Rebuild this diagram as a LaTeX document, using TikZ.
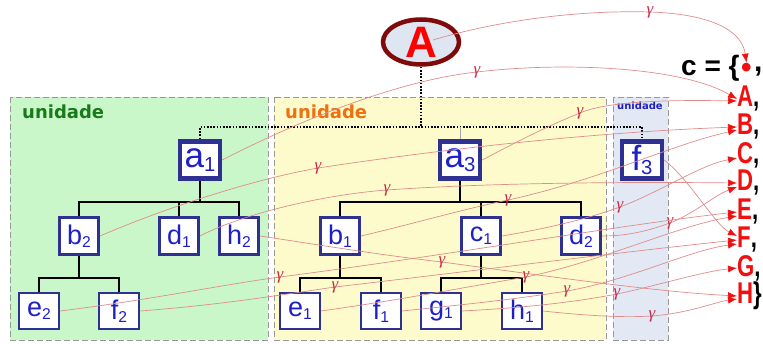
\documentclass[tikz,border=0pt]{standalone}
\usepackage{fontspec}
\usepackage{graphicx}
\setmainfont{Liberation Sans}
\newfontfamily\dv{DejaVu Sans}
\newfontfamily\gf{Liberation Serif}
\usetikzlibrary{arrows.meta,shapes.geometric,calc}
\newcommand\subn[1]{\raisebox{-0.12em}{\scalebox{0.58}{#1}}}
\newcommand\nrw[1]{\scalebox{0.74}[1]{#1}}
\definecolor{nav}{HTML}{2E3192}
\definecolor{txtb}{HTML}{1F1FC8}
\definecolor{grnf}{HTML}{C9F7C9}
\definecolor{yelf}{HTML}{FDFBCB}
\definecolor{bluf}{HTML}{E2E9F5}
\definecolor{darkr}{HTML}{7F0A0A}
\definecolor{elf}{HTML}{DDE6F1}
\definecolor{lin}{HTML}{E08C8C}
\definecolor{gcol}{HTML}{C8284A}
\definecolor{setred}{HTML}{F01010}
\definecolor{ugreen}{HTML}{1A7A1A}
\definecolor{uorange}{HTML}{F07010}
\definecolor{ublue}{HTML}{2020C0}
\tikzset{
  topbox/.style={draw=nav, line width=4.5pt, fill=white, minimum width=40pt, minimum height=37pt, inner sep=0pt, text=txtb, font=\fontsize{35}{35}\selectfont},
  midbox/.style={draw=nav, line width=3pt, fill=white, minimum width=39pt, minimum height=37pt, inner sep=0pt, text=txtb, font=\fontsize{27}{27}\selectfont},
  lowbox/.style={draw=nav, line width=1.8pt, fill=white, minimum width=40pt, minimum height=36pt, inner sep=0pt, text=txtb, font=\fontsize{27}{27}\selectfont},
  region/.style={draw=gray!80, line width=0.8pt, dash pattern=on 6pt off 3pt},
  treeline/.style={draw=black, line width=1.6pt},
  dotline/.style={draw=black, line width=1.6pt, dash pattern=on 1.6pt off 1.6pt},
  gam/.style={draw=lin, line width=0.7pt, -{Latex[length=9pt,width=7pt,color=setred]}},
  gl/.style={text=gcol, font=\gf\itshape\fontsize{17}{17}\selectfont, inner sep=0pt},
  setl/.style={inner sep=0pt, anchor=west, font=\bfseries\fontsize{30}{30}\selectfont},
  ulab/.style={font=\dv\bfseries\fontsize{18}{18}\selectfont, inner sep=0pt}
}
\begin{document}
\begin{tikzpicture}[x=1pt,y=-1pt]
\useasboundingbox (0,0) rectangle (763,344);
% regions
\fill[grnf] (10,97) rectangle (268,340);
\draw[region] (10,97) rectangle (268,340);
\fill[yelf] (274,97) rectangle (606,340);
\draw[region] (274,97) rectangle (606,340);
\fill[bluf] (613,97) rectangle (668,340);
\draw[region] (613,97) rectangle (668,340);
\node[ulab, text=ugreen, anchor=west] (u1) at (22,112) {unidade};
\node[ulab, text=uorange, anchor=west] (u2) at (285,112) {unidade};
\node[ulab, text=ublue, anchor=west, font=\dv\bfseries\fontsize{10}{10}\selectfont] (u3) at (617,106) {unidade};

% root ellipse
\node[ellipse, draw=darkr, line width=4.5pt, fill=elf, minimum width=76pt, minimum height=45pt, inner sep=0pt, text=red, font=\bfseries\fontsize{44}{44}\selectfont] (A) at (421,42) {A};

% nodes
\node[topbox] (a1) at (200,160) {a\subn{1}};
\node[topbox] (a3) at (460,160) {a\subn{3}};
\node[topbox] (f3) at (642,160) {f\subn{3}};
\node[midbox] (b2) at (79,236) {b\subn{2}};
\node[midbox] (d1) at (179,236) {d\subn{1}};
\node[midbox] (h2) at (239,236) {h\subn{2}};
\node[midbox] (b1) at (340,236) {b\subn{1}};
\node[midbox] (c1) at (481,236) {c\subn{1}};
\node[midbox] (d2) at (581,236) {d\subn{2}};
\node[lowbox] (e2) at (39,311) {e\subn{2}};
\node[lowbox] (f2) at (119,311) {f\subn{2}};
\node[lowbox] (e1) at (300,311) {e\subn{1}};
\node[lowbox] (f1) at (381,311) {f\subn{1}};
\node[lowbox] (g1) at (441,311) {g\subn{1}};
\node[lowbox] (h1) at (522,311) {h\subn{1}};

% dotted hierarchy
\coordinate (jA) at (421,127);
\draw[dotline] (A.south) -- (jA);
\draw[dotline] (a1.north) |- (jA) -| (f3.north);
\draw[gray!70, line width=0.6pt] (a3.north) -- (a3.north |- jA);

% tree lines
\coordinate (j1) at (200,202);
\draw[treeline] (a1.south) -- (j1);
\draw[treeline] (b2.north) |- (j1) -| (h2.north);
\draw[treeline] (d1.north) -- (d1.north |- j1);
\coordinate (j2) at (79,278);
\draw[treeline] (b2.south) -- (j2);
\draw[treeline] (e2.north) |- (j2) -| (f2.north);
\coordinate (j3) at (460,202);
\draw[treeline] (a3.south) -- (j3);
\draw[treeline] (b1.north) |- (j3) -| (d2.north);
\draw[treeline] (c1.north) -- (c1.north |- j3);
\coordinate (j4) at (340,278);
\draw[treeline] (b1.south) -- (j4);
\draw[treeline] (e1.north) |- (j4) -| (f1.north);
\coordinate (j5) at (481,278);
\draw[treeline] (c1.south) -- (j5);
\draw[treeline] (g1.north) |- (j5) -| (h1.north);

% set C
\node[setl, font=\bfseries\fontsize{28}{28}\selectfont] (sc) at (681,68) {c = \{};
\node[setl, text=setred, font=\bfseries\fontsize{30}{30}\selectfont] (tdot) at (741,70) {•};
\node[setl] (cm0) at (754,72) {,};
\node[setl] (tA) at (737,99) {\nrw{\textcolor{setred}{A},}};
\node[setl] (tB) at (737,127) {\nrw{\textcolor{setred}{B},}};
\node[setl] (tC) at (737,155) {\nrw{\textcolor{setred}{C},}};
\node[setl] (tD) at (737,183) {\nrw{\textcolor{setred}{D},}};
\node[setl] (tE) at (737,212) {\nrw{\textcolor{setred}{E},}};
\node[setl] (tF) at (737,240) {\nrw{\textcolor{setred}{F},}};
\node[setl] (tG) at (737,268) {\nrw{\textcolor{setred}{G},}};
\node[setl] (tH) at (737,296) {\nrw{\textcolor{setred}{H}\}}};

% gamma arrows
\draw[gam] ($(A.center)+(12,-2)$) .. controls (500,20) and (580,10) .. (650,12) node[gl] (gg1) {γ}
  .. controls (710,14) and (742,30) .. (tdot.north);
\draw[gam] (a1.east) .. controls (300,120) and (400,80) .. (477,72) node[gl] (gg2) {γ}
  .. controls (560,62) and (680,66) .. (tA.west);
\draw[gam] (a3.east) .. controls (520,140) and (550,125) .. (580,113) node[gl] (gg3) {γ}
  .. controls (610,100) and (680,100) .. ([yshift=-2pt]tA.west);
\draw[gam] (b2.east) .. controls (160,210) and (250,180) .. (318,168) node[gl] (gg4) {γ}
  .. controls (450,148) and (600,132) .. (tB.west);
\draw[gam] (d1.east) .. controls (240,215) and (320,195) .. (387,190) node[gl] (gg5) {γ}
  .. controls (500,182) and (650,182) .. (tD.west);
\draw[gam] (b1.east) .. controls (420,222) and (460,210) .. (508,200) node[gl] (gg6) {γ}
  .. controls (600,180) and (670,145) .. ([yshift=-3pt]tB.west);
\draw[gam] (c1.east) .. controls (550,228) and (590,218) .. (620,207) node[gl] (gg7) {γ}
  .. controls (660,192) and (700,165) .. ([yshift=-3pt]tC.west);
\draw[gam] (d2.east) .. controls (630,236) and (650,230) .. (670,223) node[gl] (gg8) {γ}
  .. controls (695,213) and (715,195) .. ([yshift=-4pt]tD.west);
\draw[gam] (h2.east) .. controls (320,245) and (380,255) .. (442,262) node[gl] (gg9) {γ}
  .. controls (560,278) and (660,292) .. (tH.west);
\draw[gam] (e2.east) .. controls (150,300) and (220,285) .. (280,277) node[gl] (gg10) {γ}
  .. controls (450,255) and (620,225) .. (tE.west);
\draw[gam] (f2.east) .. controls (220,305) and (280,295) .. (335,287) node[gl] (gg11) {γ}
  .. controls (480,270) and (640,250) .. (tF.west);
\draw[gam] (e1.east) .. controls (400,300) and (460,288) .. (526,277) node[gl] (gg12) {γ}
  .. controls (600,262) and (680,225) .. ([yshift=-4pt]tE.west);
\draw[gam] (f1.east) .. controls (460,305) and (510,300) .. (567,291) node[gl] (gg13) {γ}
  .. controls (630,280) and (690,250) .. ([yshift=-4pt]tF.west);
\draw[gam] (g1.east) .. controls (520,308) and (570,303) .. (617,294) node[gl] (gg14) {γ}
  .. controls (660,285) and (700,272) .. (tG.west);
\draw[gam] (h1.east) .. controls (580,315) and (620,318) .. (652,316) node[gl] (gg15) {γ}
  .. controls (690,313) and (715,302) .. ([yshift=-3pt]tH.west);
\draw[gam] (f3.east) .. controls (690,180) and (715,225) .. ([yshift=4pt]tF.west);
\end{tikzpicture}
\end{document}
